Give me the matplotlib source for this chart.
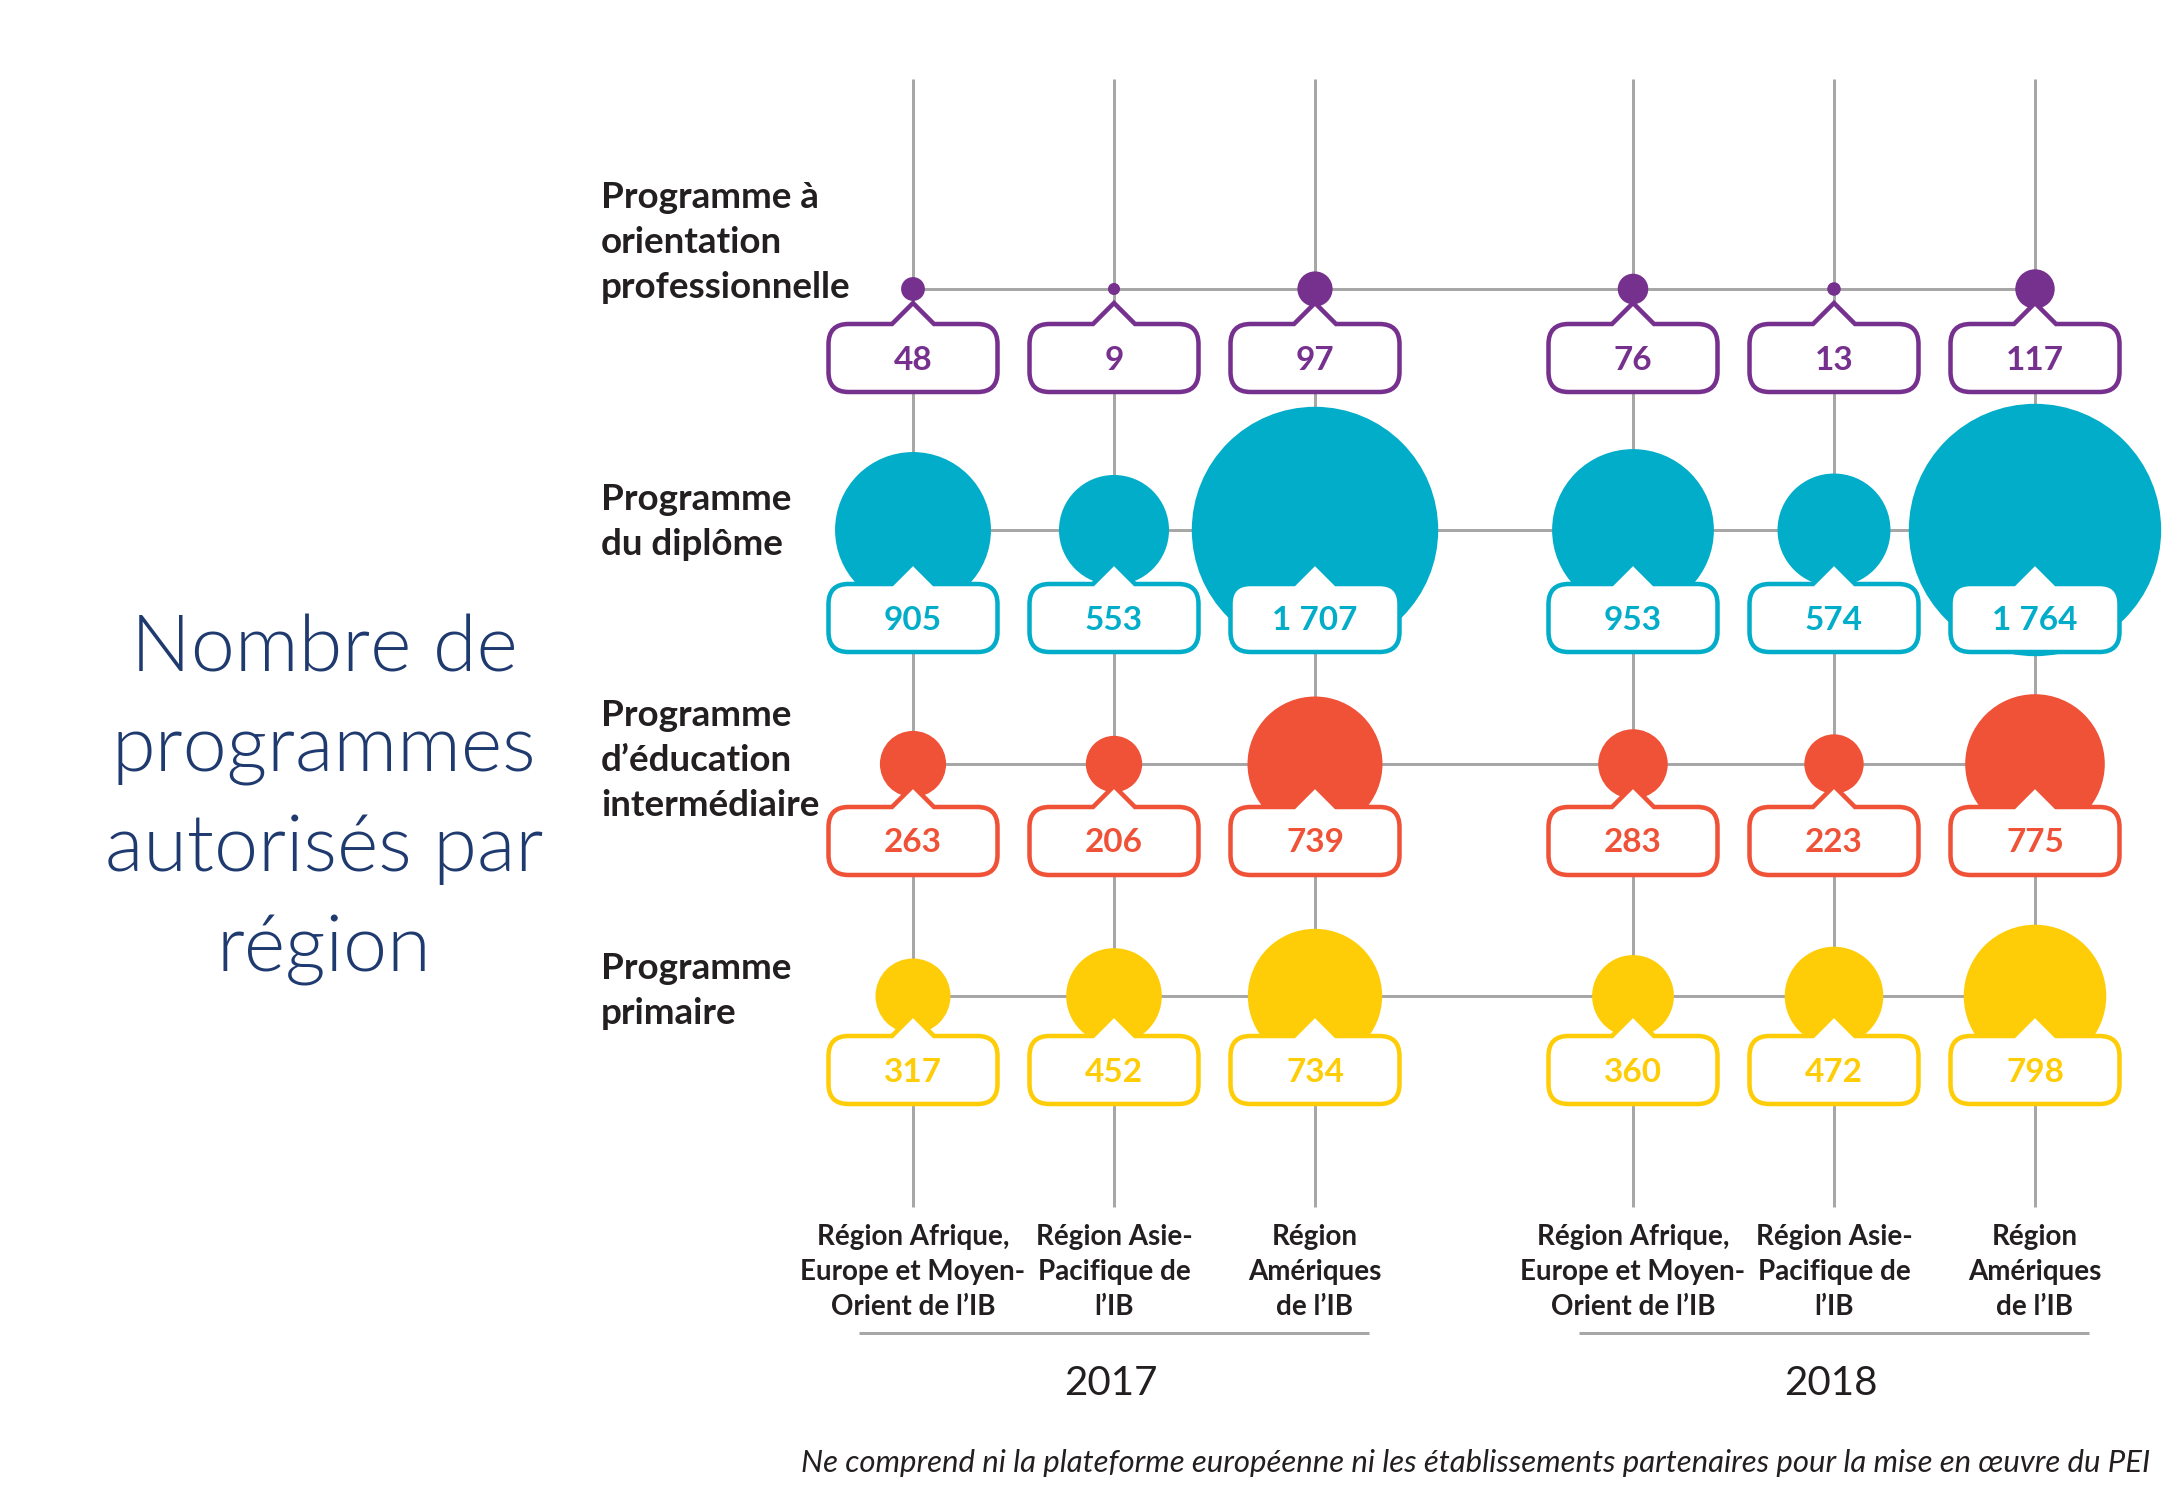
import numpy as np
import matplotlib.pyplot as plt
from matplotlib.path import Path
from matplotlib.patches import PathPatch, Circle

# --- data ---
years = ["2017", "2018"]
regions = ["Région Afrique,\nEurope et Moyen-\nOrient de l’IB",
           "Région Asie-\nPacifique de\nl’IB",
           "Région\nAmériques\nde l’IB"]
programmes = ["Programme à\norientation\nprofessionnelle",
              "Programme\ndu diplôme",
              "Programme\nd’éducation\nintermédiaire",
              "Programme\nprimaire"]
pro_2017 = [48, 9, 97]
pro_2018 = [76, 13, 117]
dp_2017 = [905, 553, 1707]
dp_2018 = [953, 574, 1764]
myp_2017 = [263, 206, 739]
myp_2018 = [283, 223, 775]
pyp_2017 = [317, 452, 734]
pyp_2018 = [360, 472, 798]
counts = [pro_2017 + pro_2018, dp_2017 + dp_2018,
          myp_2017 + myp_2018, pyp_2017 + pyp_2018]
colors = ["#76308d", "#02adc9", "#ef5237", "#fecd07"]

title = "Nombre de\nprogrammes\nautorisés par\nrégion"
note = ("Ne comprend ni la plateforme européenne ni les établissements "
        "partenaires pour la mise en œuvre du PEI")

# --- layout (pixel units of the 2181x1509 canvas) ---
W, H = 2181, 1509
PT = 0.72                      # points per pixel at dpi 100
GRID = "#a7a7a7"
DARK = "#231f20"
NAVY = "#1f3a6f"
year_x0 = [913, 1633]
col_step = 201
row_y = [289, 530, 764, 996]
box_y = [358, 618, 841, 1070]
label_y = [208, 510, 726, 979]
FONT = "Lato"

col_x = [x0 + i * col_step for x0 in year_x0 for i in range(3)]


def radius(v):
    return 3.7 + 0.45 * v ** 0.75


def callout(cx, cy, w=169, h=68, r=20, tw=21, th=21):
    top, bot = cy - h / 2, cy + h / 2
    left, right = cx - w / 2, cx + w / 2
    verts = [(left + r, top), (cx - tw, top), (cx, top - th), (cx + tw, top),
             (right - r, top), (right, top), (right, top + r),
             (right, bot - r), (right, bot), (right - r, bot),
             (left + r, bot), (left, bot), (left, bot - r),
             (left, top + r), (left, top), (left + r, top), (0, 0)]
    codes = [Path.MOVETO, Path.LINETO, Path.LINETO, Path.LINETO,
             Path.LINETO, Path.CURVE3, Path.CURVE3,
             Path.LINETO, Path.CURVE3, Path.CURVE3,
             Path.LINETO, Path.CURVE3, Path.CURVE3,
             Path.LINETO, Path.CURVE3, Path.CURVE3, Path.CLOSEPOLY]
    return Path(verts, codes)


def lines(x, y0, text, step, **kw):
    for i, s in enumerate(text.split("\n")):
        ax.text(x, y0 + i * step, s, va="baseline", **kw)


fig = plt.figure(figsize=(W / 100, H / 100), dpi=100)
ax = fig.add_axes([0, 0, 1, 1])
ax.set_xlim(0, W)
ax.set_ylim(H, 0)
ax.axis("off")

# grid
for x in col_x:
    ax.plot([x, x], [79, 1207], color=GRID, lw=3 * PT, zorder=1,
            solid_capstyle="butt")
for y in row_y:
    ax.plot([col_x[0], col_x[-1]], [y, y], color=GRID, lw=3 * PT, zorder=1,
            solid_capstyle="butt")

# bubbles and callouts
for k, vals in enumerate(counts):
    for j, v in enumerate(vals):
        x = col_x[j]
        ax.add_patch(Circle((x, row_y[k]), radius(v), fc=colors[k],
                            ec="none", zorder=2))
        ax.add_patch(PathPatch(callout(x, box_y[k]), fc="white",
                               ec=colors[k], lw=4.5 * PT, joinstyle="miter",
                               zorder=3))
        ax.text(x, box_y[k] + 11.5, f"{v:,}".replace(",", " "),
                ha="center", va="baseline", color=colors[k],
                fontsize=24, fontweight="bold", family=FONT, zorder=4)
    lines(601, label_y[k], programmes[k], 45, ha="left", color=DARK,
          fontsize=26.5, fontweight="bold", family=FONT)

# region labels and years
for j, x in enumerate(col_x):
    lines(x, 1245, regions[j % 3], 35, ha="center", color=DARK,
          fontsize=20, fontweight="bold", family=FONT)
for i, yr in enumerate(years):
    xm = np.mean(col_x[i * 3:i * 3 + 3])
    ax.plot([xm - 255, xm + 255], [1333, 1333], color=GRID, lw=3 * PT,
            solid_capstyle="butt")
    ax.text(xm - 3, 1395, yr, ha="center", va="baseline", color=DARK,
            fontsize=29, family=FONT)

# title and note
lines(324, 671, title, 100, ha="center", color=NAVY, fontsize=57,
      fontweight=300, family=FONT)
ax.text(2150, 1472, note, ha="right", va="baseline", color=DARK,
        fontsize=22.4, style="italic", fontweight="normal", family=FONT)

fig.savefig("out.png", dpi=100, facecolor="white")
